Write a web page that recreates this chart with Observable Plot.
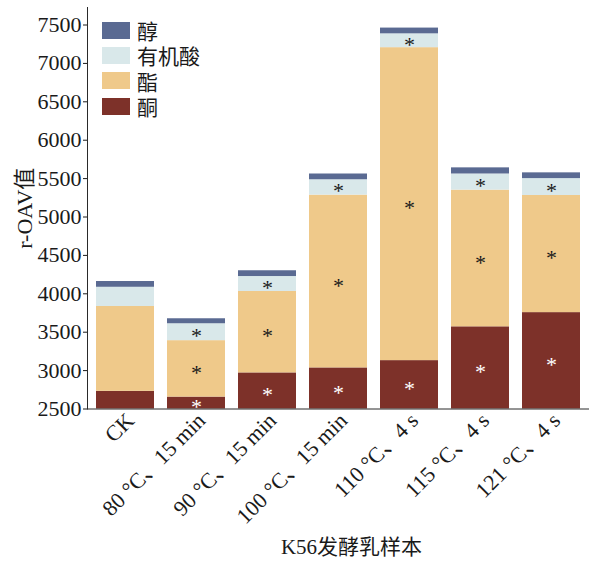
<!DOCTYPE html>
<html>
<head>
<meta charset="utf-8">
<script src="https://cdn.jsdelivr.net/npm/d3@7"></script>
<script src="https://cdn.jsdelivr.net/npm/@observablehq/plot@0.6"></script>
<style>
  body { margin: 0; background: #fff; }
  #chart { position: relative; width: 589px; height: 564px; }
  .legend {
    position: absolute; left: 102px; top: 17.5px;
    font-family: "Liberation Serif", "Noto Sans CJK SC", serif;
    font-size: 21px; color: #1a1a1a;
  }
  .legend .row { display: flex; align-items: center; height: 25.3px; }
  .legend .sw { width: 28px; height: 17px; margin-right: 7px; }
</style>
</head>
<body>
<div id="chart"></div>
<script>
// Samples of K56 fermented milk (x axis)
const samples = ["CK", "80 °C、15 min", "90 °C、15 min", "100 °C、15 min", "110 °C、4 s", "115 °C、4 s", "121 °C、4 s"];

// Compound classes, stacked bottom to top, and their colours
const groups = ["酮", "酯", "有机酸", "醇"];
const groupColors = ["#7d3129", "#efc98a", "#d9e8ea", "#5a6a92"];

// r-OAV values per class
const ketone  = [2730, 2655, 2970, 3035, 3130, 3570, 3755];
const ester   = [1105,  735, 1060, 2250, 4075, 1780, 1525];
const acid    = [ 250,  220,  195,  200,  180,  210,  220];
const alcohol = [  75,   65,   75,   75,   75,   80,   75];

// Significance marks (1 = "*") per class
const ketoneSig  = [0, 1, 1, 1, 1, 1, 1];
const esterSig   = [0, 1, 1, 1, 1, 1, 1];
const acidSig    = [0, 1, 1, 1, 1, 1, 1];
const alcoholSig = [0, 0, 0, 0, 0, 0, 0];

// Axis settings
const yMin = 2500, yMax = 7728;
const yTicks = [2500, 3000, 3500, 4000, 4500, 5000, 5500, 6000, 6500, 7000, 7500];
const yTitle = "r-OAV值";
const xTitle = "K56发酵乳样本";

const seriesValues = [ketone, ester, acid, alcohol];
const seriesSig = [ketoneSig, esterSig, acidSig, alcoholSig];

// Long table for the stacked bars, plus the visible middle of each segment for its star
const rows = [];
const stars = [];
samples.forEach((s, i) => {
  let base = 0;
  groups.forEach((g, k) => {
    const v = seriesValues[k][i];
    rows.push({sample: s, group: g, value: v});
    if (seriesSig[k][i]) {
      const lo = Math.max(base, yMin);
      stars.push({sample: s, group: g, mid: (lo + base + v) / 2});
    }
    base += v;
  });
});

const font = '"Liberation Serif", "Noto Sans CJK SC", serif';

const chart = Plot.plot({
  width: 589,
  height: 564,
  marginLeft: 87,
  marginRight: 0,
  marginTop: 7,
  marginBottom: 155.5,
  style: {fontFamily: font, fontSize: "22px", color: "#1a1a1a", background: "white", overflow: "visible"},
  x: {domain: samples, paddingInner: 0.19, paddingOuter: 0.1},
  y: {domain: [yMin, yMax]},
  color: {domain: groups, range: groupColors},
  marks: [
    Plot.barY(rows, Plot.stackY({x: "sample", y: "value", fill: "group", clip: true})),
    Plot.text(stars.filter(d => d.group === "酮"), {x: "sample", y: "mid", text: () => "*", fill: "white", fontSize: 22, dy: 4}),
    Plot.text(stars.filter(d => d.group !== "酮"), {x: "sample", y: "mid", text: () => "*", fill: "#1a1a1a", fontSize: 22, dy: 4}),
    Plot.frame({anchor: "left", stroke: "#2a2a2a"}),
    Plot.ruleY([yMin], {stroke: "#2a2a2a"}),
    Plot.axisY({ticks: yTicks, tickSize: 4, tickPadding: 2, tickFormat: d => String(d), label: yTitle, labelAnchor: "center", labelArrow: "none", labelOffset: 71, fontSize: 22}),
    Plot.axisX({tickRotate: -45, tickSize: 0, tickPadding: 6, label: null, fontSize: 22, dx: 5, dy: 2}),
    Plot.text([xTitle], {frameAnchor: "bottom", dy: 145, dx: 13, fontSize: 21, fill: "#1a1a1a"})
  ]
});

const holder = document.getElementById("chart");
holder.appendChild(chart);

// Legend inside the plot area, top to bottom: 醇, 有机酸, 酯, 酮
const legend = document.createElement("div");
legend.className = "legend";
groups.slice().reverse().forEach(g => {
  const row = document.createElement("div");
  row.className = "row";
  const sw = document.createElement("span");
  sw.className = "sw";
  sw.style.background = groupColors[groups.indexOf(g)];
  const label = document.createElement("span");
  label.textContent = g;
  row.appendChild(sw);
  row.appendChild(label);
  legend.appendChild(row);
});
holder.appendChild(legend);
</script>
</body>
</html>
